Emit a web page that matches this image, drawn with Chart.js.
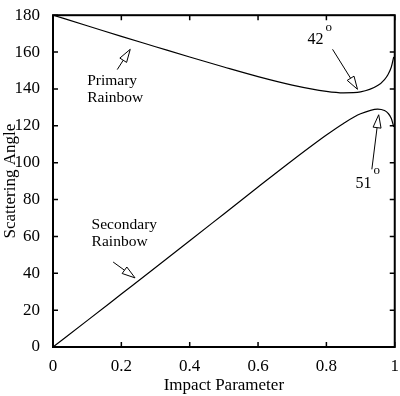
<!DOCTYPE html>
<html>
<head>
<meta charset="utf-8">
<script src="https://cdn.jsdelivr.net/npm/chart.js@4/dist/chart.umd.min.js"></script>
<style>
  html, body { margin: 0; padding: 0; background: #fff; }
</style>
</head>
<body>
<canvas id="myChart" width="400" height="396"></canvas>
<script>
// impact parameter samples
const impact = [0, 0.1, 0.2, 0.3, 0.4, 0.5, 0.6, 0.7, 0.8, 0.85, 0.9, 0.95, 0.97, 0.98, 0.99, 0.997];
// scattering angle, degrees
const primary = [180, 174.3, 168.5, 162.9, 157.3, 151.9, 146.7, 142.1, 138.7, 137.9, 138.4, 141.8, 145.1, 147.7, 151.9, 157.4];
const secondary = [0, 14.3, 28.7, 43.1, 57.6, 72.2, 86.8, 101.2, 115.0, 121.3, 126.5, 129.1, 128.3, 126.9, 124.0, 119.4];

const xTicks = [0, 0.2, 0.4, 0.6, 0.8, 1];
const yTicks = [0, 20, 40, 60, 80, 100, 120, 140, 160, 180];

const serif = "'Liberation Serif', 'DejaVu Serif', serif";

// labels + arrows, in data units (tail -> tip)
const notes = [
  { lines: ["Primary", "Rainbow"], x: 0.1, y: 144.5, tail: [0.188, 150.5], tip: [0.226, 161.5] },
  { lines: ["Secondary", "Rainbow"], x: 0.113, y: 66.3, tail: [0.176, 46.1], tip: [0.24, 37.5] },
  { lines: ["42"], x: 0.745, y: 166.5, sup: true, tail: [0.818, 161.5], tip: [0.891, 139.8] },
  { lines: ["51"], x: 0.885, y: 88.5, sup: true, tail: [0.933, 96.4], tip: [0.953, 126] },
];

const toPts = (ys) => impact.map((x, i) => ({ x: x, y: ys[i] }));

const drawArrow = (ctx, x0, y0, x1, y1) => {
  const ang = Math.atan2(y1 - y0, x1 - x0);
  const len = 13, half = 4;
  const bx = x1 - len * Math.cos(ang), by = y1 - len * Math.sin(ang);
  ctx.beginPath();
  ctx.moveTo(x0, y0);
  ctx.lineTo(bx, by);
  ctx.stroke();
  ctx.beginPath();
  ctx.moveTo(x1, y1);
  ctx.lineTo(bx + half * Math.sin(ang), by - half * Math.cos(ang));
  ctx.lineTo(bx - half * Math.sin(ang), by + half * Math.cos(ang));
  ctx.closePath();
  ctx.fillStyle = "#fff";
  ctx.fill();
  ctx.stroke();
};

const framePlugin = {
  id: "frame",
  afterDraw(chart) {
    const ctx = chart.ctx;
    const a = chart.chartArea;
    const sx = chart.scales.x, sy = chart.scales.y;
    ctx.save();
    ctx.strokeStyle = "#000";
    ctx.lineWidth = 2;
    ctx.strokeRect(a.left, a.top, a.right - a.left, a.bottom - a.top);
    // inward ticks on all four sides
    ctx.lineWidth = 1.5;
    ctx.beginPath();
    xTicks.forEach((v) => {
      const px = sx.getPixelForValue(v);
      ctx.moveTo(px, a.bottom); ctx.lineTo(px, a.bottom - 5);
      ctx.moveTo(px, a.top); ctx.lineTo(px, a.top + 5);
    });
    yTicks.forEach((v) => {
      const py = sy.getPixelForValue(v);
      ctx.moveTo(a.left, py); ctx.lineTo(a.left + 5, py);
      ctx.moveTo(a.right, py); ctx.lineTo(a.right - 5, py);
    });
    ctx.stroke();

    // annotations
    ctx.lineWidth = 1;
    ctx.textBaseline = "middle";
    ctx.textAlign = "left";
    notes.forEach((n) => {
      const tx = sx.getPixelForValue(n.x), ty = sy.getPixelForValue(n.y);
      ctx.fillStyle = "#000";
      ctx.font = (n.sup ? "16px " : "15.5px ") + serif;
      n.lines.forEach((t, i) => {
        ctx.fillText(t, tx, ty + i * 17.5);
      });
      if (n.sup) {
        const w = ctx.measureText(n.lines[0]).width;
        ctx.font = "13px " + serif;
        ctx.fillText("o", tx + w + 2, ty - 13);
      }
      drawArrow(ctx,
        sx.getPixelForValue(n.tail[0]), sy.getPixelForValue(n.tail[1]),
        sx.getPixelForValue(n.tip[0]), sy.getPixelForValue(n.tip[1]));
    });
    ctx.restore();
  },
};

const data = {
  datasets: [
    {
      label: "Primary Rainbow",
      data: toPts(primary),
      borderColor: "#000",
      borderWidth: 1.2,
      pointRadius: 0,
      showLine: true,
      cubicInterpolationMode: "monotone",
    },
    {
      label: "Secondary Rainbow",
      data: toPts(secondary),
      borderColor: "#000",
      borderWidth: 1.2,
      pointRadius: 0,
      showLine: true,
      cubicInterpolationMode: "monotone",
    },
  ],
};

const tickFont = { family: serif, size: 17 };

const config = {
  type: "scatter",
  data: data,
  options: {
    responsive: false,
    animation: false,
    layout: { padding: { top: 7, right: 3, left: 0, bottom: 0 } },
    plugins: { legend: { display: false }, tooltip: { enabled: false } },
    scales: {
      x: {
        type: "linear",
        min: 0,
        max: 1,
        afterBuildTicks: (s) => { s.ticks = xTicks.map((v) => ({ value: v })); },
        ticks: { color: "#000", font: tickFont, padding: 1, maxRotation: 0, callback: (v) => String(v) },
        grid: { display: false },
        border: { display: false },
        title: { display: true, text: "Impact Parameter", color: "#000", font: tickFont, padding: { top: 0, bottom: 0 } },
        afterFit: (s) => { s.height = 49; },
      },
      y: {
        min: 0,
        max: 180,
        afterBuildTicks: (s) => { s.ticks = yTicks.map((v) => ({ value: v })); },
        ticks: { color: "#000", font: tickFont, padding: 5, callback: (v) => String(v) },
        grid: { display: false },
        border: { display: false },
        title: { display: true, text: "Scattering Angle", color: "#000", font: tickFont, padding: { top: 0, bottom: 0 } },
        afterFit: (s) => { s.width = 53; },
      },
    },
  },
  plugins: [framePlugin],
};

let myChart = new Chart(document.getElementById("myChart"), config);
</script>
</body>
</html>
